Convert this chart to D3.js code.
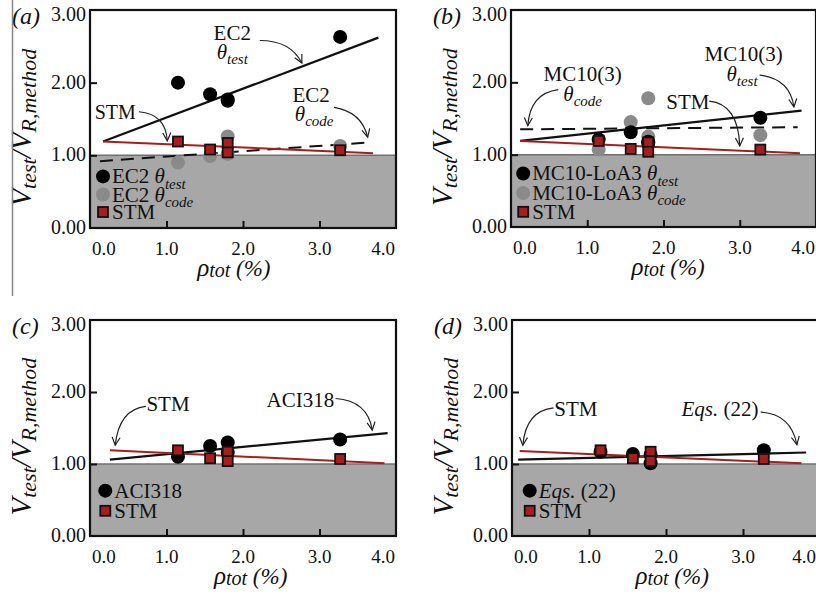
<!DOCTYPE html>
<html lang="en">
<head>
<meta charset="UTF-8">
<title>Vtest / VR,method against rho_tot</title>
<script src="https://d3js.org/d3.v7.min.js"></script>
<style>
  body { margin: 0; background: #fff; }
</style>
</head>
<body>
<svg id="chart" width="816" height="599"></svg>
<script>
// specimen reinforcement ratio (%), same for every panel
var rho = [1.15, 1.57, 1.80, 1.80, 3.27];

// Vtest / VR,method for each method
var stm      = [1.19, 1.08, 1.17, 1.04, 1.07];
var ec2Test  = [2.00, 1.84, 1.77, 1.75, 2.63];
var ec2Code  = [0.90, 0.99, 1.26, 1.02, 1.13];
var mc10Test = [1.21, 1.31, 1.18, 1.16, 1.51];
var mc10Code = [1.07, 1.45, 1.78, 1.25, 1.27];
var aci318   = [1.10, 1.25, 1.30, 1.16, 1.34];
var eqs22    = [1.17, 1.14, 1.01, 1.13, 1.19];

// trend lines as [x0, y0, x1, y1]
var fitEc2Test  = [0.17, 1.19, 3.77, 2.62];
var fitEc2Code  = [0.13, 0.92, 3.69, 1.18];
var fitStmA     = [0.17, 1.19, 3.70, 1.03];
var fitMc10Test = [0.12, 1.19, 3.81, 1.61];
var fitMc10Code = [0.12, 1.35, 3.76, 1.38];
var fitStmB     = [0.12, 1.19, 3.79, 1.02];
var fitAci      = [0.26, 1.06, 3.89, 1.43];
var fitStmC     = [0.26, 1.19, 3.85, 1.01];
var fitEqs      = [0.08, 1.06, 3.82, 1.16];
var fitStmD     = [0.10, 1.18, 3.76, 1.01];

var xTicks = [0, 1, 2, 3, 4];
var xTickLabels = ["0.0", "1.0", "2.0", "3.0", "4.0"];
var yTicks = [0, 1, 2, 3];
var yTickLabels = ["0.00", "1.00", "2.00", "3.00"];

var RED = "#a81e1e", GREY = "#8a8a8a", SHADE = "#a7a7a7";
var FONT = "'Liberation Serif', 'Times New Roman', serif";

var svg = d3.select("#chart");

svg.append("defs").append("marker")
    .attr("id", "arrow")
    .attr("markerUnits", "userSpaceOnUse")
    .attr("markerWidth", 12).attr("markerHeight", 12)
    .attr("refX", 9).attr("refY", 5)
    .attr("orient", "auto")
    .append("path")
    .attr("d", "M1,1 L9,5 L1,9")
    .attr("fill", "none").attr("stroke", "#222").attr("stroke-width", 1.2);

function label(g, x, y, size) {
    return g.append("text").attr("x", x).attr("y", y)
        .attr("font-size", size).attr("fill", "#111")
        .style("font-family", FONT);
}

// text made of pieces (normal / italic / subscript)
function rich(g, x, y, parts, anchor) {
    var t = label(g, x, y, 20).attr("text-anchor", anchor || "start");
    parts.forEach(function(p) {
        t.append("tspan")
            .attr("font-size", p.s)
            .attr("font-style", p.i ? "italic" : "normal")
            .attr("dy", p.dy || 0)
            .style("font-family", FONT)
            .text(p.t);
    });
    return t;
}

function theta(sub, size) {
    var s = size || 21;
    return [{t: "\u03b8", s: s, i: true}, {t: sub, s: Math.round(s * 0.72), i: true, dy: s * 0.25}];
}

var panels = [
    {
        tag: "(a)", left: 90, right: 396, top: 10, bottom: 228, xTitleAt: 1.88,
        fits: [
            {f: fitEc2Code, color: "#111", dash: "13,8", w: 2},
            {f: fitEc2Test, color: "#111", w: 2.2},
            {f: fitStmA, color: RED, w: 2}
        ],
        series: [
            {v: ec2Code, kind: "circle", color: GREY},
            {v: ec2Test, kind: "circle", color: "#000"},
            {v: stm, kind: "square"}
        ],
        notes: [
            {x: 1.86, y: 2.68, parts: [{t: "EC2", s: 21}]},
            {x: 1.86, y: 2.42, parts: theta("test")},
            {x: 2.89, y: 1.83, parts: [{t: "EC2", s: 21}]},
            {x: 2.93, y: 1.57, parts: theta("code")},
            {x: 0.33, y: 1.60, parts: [{t: "STM", s: 20}]}
        ],
        arrows: [
            [2.22, 2.58, 2.62, 2.58, 2.77, 2.27],
            [3.19, 1.66, 3.55, 1.60, 3.63, 1.25],
            [0.64, 1.60, 0.99, 1.57, 1.01, 1.20]
        ],
        legend: {x: 0.17, rows: [
            {y: 0.71, kind: "circle", color: "#000", parts: [{t: "EC2 ", s: 21}].concat(theta("test", 21))},
            {y: 0.46, kind: "circle", color: GREY, parts: [{t: "EC2 ", s: 21}].concat(theta("code", 21))},
            {y: 0.22, kind: "square", parts: [{t: "STM", s: 21}]}
        ]}
    },
    {
        tag: "(b)", left: 511, right: 816, top: 10, bottom: 227, xTitleAt: 2.06,
        fits: [
            {f: fitMc10Code, color: "#111", dash: "13,8", w: 2},
            {f: fitMc10Test, color: "#111", w: 2.2},
            {f: fitStmB, color: RED, w: 2}
        ],
        series: [
            {v: mc10Code, kind: "circle", color: GREY},
            {v: mc10Test, kind: "circle", color: "#000"},
            {v: stm, kind: "square"}
        ],
        notes: [
            {x: 0.94, y: 2.12, parts: [{t: "MC10(3)", s: 21}]},
            {x: 0.94, y: 1.84, parts: theta("code")},
            {x: 3.05, y: 2.39, parts: [{t: "MC10(3)", s: 21}]},
            {x: 3.03, y: 2.12, parts: theta("test")},
            {x: 2.32, y: 1.73, parts: [{t: "STM", s: 21}]}
        ],
        arrows: [
            [0.62, 1.90, 0.25, 1.85, 0.22, 1.40],
            [3.26, 2.10, 3.66, 2.05, 3.71, 1.66],
            [2.60, 1.74, 2.98, 1.70, 3.00, 1.12]
        ],
        legend: {x: 0.16, rows: [
            {y: 0.74, kind: "circle", color: "#000", parts: [{t: "MC10-LoA3 ", s: 21}].concat(theta("test", 21))},
            {y: 0.47, kind: "circle", color: GREY, parts: [{t: "MC10-LoA3 ", s: 21}].concat(theta("code", 21))},
            {y: 0.21, kind: "square", parts: [{t: "STM", s: 21}]}
        ]}
    },
    {
        tag: "(c)", left: 90, right: 396, top: 320, bottom: 536, xTitleAt: 2.10,
        fits: [
            {f: fitAci, color: "#111", w: 2.2},
            {f: fitStmC, color: RED, w: 2}
        ],
        series: [
            {v: aci318, kind: "circle", color: "#000"},
            {v: stm, kind: "square"}
        ],
        notes: [
            {x: 1.02, y: 1.83, parts: [{t: "STM", s: 21}]},
            {x: 2.75, y: 1.89, parts: [{t: "ACI318", s: 21}]}
        ],
        arrows: [
            [0.73, 1.80, 0.38, 1.76, 0.33, 1.26],
            [3.21, 1.91, 3.63, 1.88, 3.69, 1.47]
        ],
        legend: {x: 0.20, rows: [
            {y: 0.63, kind: "circle", color: "#000", parts: [{t: "ACI318", s: 21}]},
            {y: 0.35, kind: "square", parts: [{t: "STM", s: 21}]}
        ]}
    },
    {
        tag: "(d)", left: 512, right: 820, top: 320, bottom: 536, xTitleAt: 2.08,
        fits: [
            {f: fitEqs, color: "#111", w: 2.2},
            {f: fitStmD, color: RED, w: 2}
        ],
        series: [
            {v: eqs22, kind: "circle", color: "#000"},
            {v: stm, kind: "square"}
        ],
        notes: [
            {x: 0.83, y: 1.76, parts: [{t: "STM", s: 21}]},
            {x: 2.70, y: 1.76, parts: [{t: "Eqs.", s: 21, i: true}, {t: " (22)", s: 21}]}
        ],
        arrows: [
            [0.54, 1.78, 0.18, 1.74, 0.14, 1.26],
            [3.23, 1.72, 3.62, 1.70, 3.70, 1.27]
        ],
        legend: {x: 0.23, rows: [
            {y: 0.63, kind: "circle", color: "#000", parts: [{t: "Eqs.", s: 21, i: true}, {t: " (22)", s: 21}]},
            {y: 0.35, kind: "square", parts: [{t: "STM", s: 21}]}
        ]}
    }
];

function drawSymbol(g, kind, cx, cy, color) {
    if (kind === "circle") {
        g.append("circle").attr("cx", cx).attr("cy", cy).attr("r", 7).attr("fill", color);
    } else {
        g.append("rect").attr("x", cx - 5).attr("y", cy - 5)
            .attr("width", 10).attr("height", 10)
            .attr("fill", RED).attr("stroke", "#111").attr("stroke-width", 1.8);
    }
}

panels.forEach(function(p) {
    var x = d3.scaleLinear().domain([0, 4]).range([p.left, p.right]);
    var y = d3.scaleLinear().domain([0, 3]).range([p.bottom, p.top]);
    var g = svg.append("g");

    // shaded unsafe zone below 1.0
    g.append("rect")
        .attr("x", x(0)).attr("y", y(1))
        .attr("width", x(4) - x(0)).attr("height", y(0) - y(1))
        .attr("fill", SHADE);
    g.append("line")
        .attr("x1", x(0)).attr("x2", x(4)).attr("y1", y(1)).attr("y2", y(1))
        .attr("stroke", "#707070").attr("stroke-width", 1.5);

    // inward ticks
    var xAxis = d3.axisTop(x).tickValues(xTicks.slice(1, 4)).tickSize(7).tickFormat("");
    g.append("g").attr("transform", "translate(0," + y(0) + ")").call(xAxis)
        .call(function(a) { a.select(".domain").remove(); a.selectAll("line").attr("stroke", "#111").attr("stroke-width", 2); });
    var yAxis = d3.axisRight(y).tickValues(yTicks.slice(1, 3)).tickSize(7).tickFormat("");
    g.append("g").attr("transform", "translate(" + x(0) + ",0)").call(yAxis)
        .call(function(a) { a.select(".domain").remove(); a.selectAll("line").attr("stroke", "#111").attr("stroke-width", 2); });

    // frame
    g.append("rect")
        .attr("x", x(0)).attr("y", y(3))
        .attr("width", x(4) - x(0)).attr("height", y(0) - y(3))
        .attr("fill", "none").attr("stroke", "#111").attr("stroke-width", 2.2);

    // tick labels
    xTicks.forEach(function(v, i) {
        var anchor = i === 0 ? "start" : (i === xTicks.length - 1 ? "end" : "middle");
        var px = i === 0 ? x(v) + 2 : (i === xTicks.length - 1 ? Math.min(x(v) - 1, 816) : x(v));
        label(g, px, y(0) + 27, 19).attr("text-anchor", anchor).text(xTickLabels[i]);
    });
    yTicks.forEach(function(v, i) {
        var py = Math.max(y(v), y(3) + 5);
        label(g, x(0) - 4, py + 6, 20).attr("text-anchor", "end").text(yTickLabels[i]);
    });

    // panel tag
    label(g, x(0) - 78, y(3) + 14, 24).attr("font-style", "italic").text(p.tag);

    // axis titles
    rich(g, x(p.xTitleAt), y(0) + 48, [
        {t: "\u03c1", s: 25, i: true},
        {t: "tot", s: 20, i: true, dy: 1},
        {t: " (%)", s: 23, i: true, dy: -1}
    ], "middle");

    var yt = rich(g, 0, 0, [
        {t: "V", s: 29, i: true},
        {t: "test", s: 22, i: true, dy: 5},
        {t: "/", s: 29, i: true, dy: -5},
        {t: "V", s: 29, i: true},
        {t: "R,method", s: 22, i: true, dy: 5}
    ], "middle");
    yt.attr("transform", "translate(" + (x(0) - 59) + "," + (y(1.38)) + ") rotate(-90)");

    // trend lines
    p.fits.forEach(function(fl) {
        g.append("line")
            .attr("x1", x(fl.f[0])).attr("y1", y(fl.f[1]))
            .attr("x2", x(fl.f[2])).attr("y2", y(fl.f[3]))
            .attr("stroke", fl.color).attr("stroke-width", fl.w)
            .attr("stroke-dasharray", fl.dash || null);
    });

    // points
    p.series.forEach(function(s) {
        s.v.forEach(function(v, i) {
            drawSymbol(g, s.kind, x(rho[i]), y(v), s.color);
        });
    });

    // annotations
    p.notes.forEach(function(n) {
        rich(g, x(n.x), y(n.y) + 7, n.parts, "middle");
    });
    p.arrows.forEach(function(a) {
        var path = d3.path();
        path.moveTo(x(a[0]), y(a[1]));
        path.quadraticCurveTo(x(a[2]), y(a[3]), x(a[4]), y(a[5]));
        g.append("path").attr("d", path.toString())
            .attr("fill", "none").attr("stroke", "#222").attr("stroke-width", 1.2)
            .attr("marker-end", "url(#arrow)");
    });

    // legend
    p.legend.rows.forEach(function(r) {
        drawSymbol(g, r.kind, x(p.legend.x), y(r.y), r.color);
        rich(g, x(p.legend.x) + 9, y(r.y) + 7, r.parts, "start");
    });
});

// stray rule on the left edge of the scan
svg.append("line").attr("x1", 12.5).attr("x2", 12.5).attr("y1", 0).attr("y2", 296)
    .attr("stroke", "#888").attr("stroke-width", 1.5);
</script>
</body>
</html>
